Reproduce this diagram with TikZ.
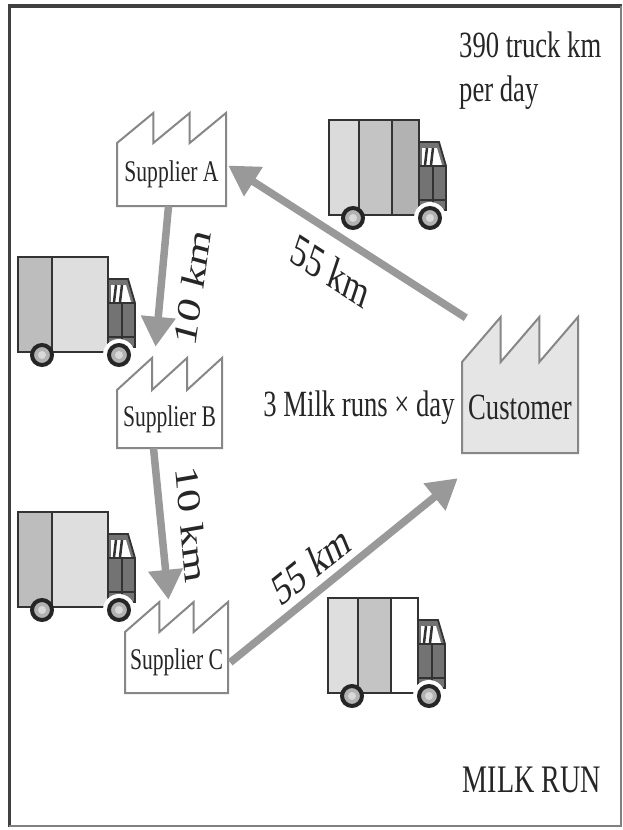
\documentclass[tikz,border=0pt]{standalone}
\usepackage{fontspec}
\setmainfont[FakeStretch=0.72]{Liberation Serif}
\newfontfamily\slantfont{Liberation Serif}
\usetikzlibrary{arrows.meta,positioning}

% factory outline: body with a saw-tooth roof
\newcommand{\plant}[8][fill=white]{%
  \pgfmathsetmacro\tooth{(#5-#3)/3}
  \draw[factory,#1] (#3,#4) -- ++(\tooth,-#7) -- ++(0,#7) -- ++(\tooth,-#7)
    -- ++(0,#7) -- ++(\tooth,-#7) -- (#5,#6) -- (#3,#6) -- cycle;
  \node[body, minimum width={(#5-#3)*1pt}, minimum height={(#6-#4)*1pt}]
    (#2) at ({(#3+#5)/2},{(#4+#6)/2}) {#8};
}
\newcommand{\plantfont}{\fontsize{30}{34}\selectfont}

\tikzset{
  factory/.style={draw=black!47, line width=2pt},
  body/.style={inner sep=0pt, text=black!85},
  route/.style={draw=black!40, line width=7.5pt, -{Triangle[length=30pt,width=33pt]}},
  lbl/.style={font=\fontsize{37}{44}\selectfont, inner sep=0pt, text=black!85},
  dist/.style={font=\slantfont\fontsize{46}{50}\selectfont, inner sep=0pt, text=black!85, xscale=0.72},
  truckline/.style={draw=black!80, line width=1.8pt},
  % box top-left at the origin; three panel colours and two divider positions
  pics/truck/.style n args={5}{code={
    \fill[#1] (0,0) rectangle (#4,95);
    \fill[#2] (#4,0) rectangle (#5,95);
    \fill[#3] (#5,0) rectangle (90,95);
    \draw[truckline] (#4,0) -- (#4,95) (#5,0) -- (#5,95);
    \draw[truckline] (0,0) rectangle (90,95);
    \filldraw[truckline, fill=black!55] (90,22) -- (110,22) -- (117,46) -- (117,90) -- (90,90) -- cycle;
    \fill[white] (93,28) -- (108,28) -- (113,45) -- (93,45) -- cycle;
    \draw[black!80, line width=2.5pt] (98,28) -- (96,45) (104,28) -- (102,45);
    \draw[black!80, line width=1.2pt] (90,46) -- (117,46) (104,46) -- (104,86) (90,80) -- (117,80);
    \fill[white] (101,98) circle (16);
    \filldraw[draw=black!85, fill=black!30, line width=4pt] (24,98) circle (10);
    \fill[black!15] (24,98) circle (4);
    \filldraw[draw=black!85, fill=black!30, line width=4pt] (101,98) circle (10);
    \fill[black!15] (101,98) circle (4);
  }}
}

\begin{document}
\begin{tikzpicture}[x=1pt, y=-1pt]
  \useasboundingbox (0,0) rectangle (622,830);
  \fill[white] (0,0) rectangle (622,830);

  % frame
  \draw[black!75, line width=4pt] (8,6) -- (622,6);
  \draw[black!75, line width=3pt] (9,6) -- (9,827);
  \draw[black!50, line width=2pt] (9,826) -- (621,826) -- (621,6);

  % trucks
  \pic at (329,120) {truck={black!14}{black!23}{black!30}{30}{63}};
  \pic at (18,257) {truck={black!26}{black!13}{black!13}{34}{90}};
  \pic at (18,512) {truck={black!26}{black!13}{black!13}{34}{90}};
  \pic at (328,598) {truck={black!13}{black!23}{white}{30}{63}};

  % suppliers and customer
  \plant{supA}{117}{143}{226}{206}{30}{\plantfont Supplier A}
  \plant{supB}{117}{390}{222}{448}{32}{\plantfont Supplier B}
  \plant{supC}{125}{632}{228}{693}{30}{\plantfont Supplier C}
  \plant[fill=black!10]{cust}{462}{362}{578}{453}{45}{\fontsize{37}{40}\selectfont Customer}

  % routes
  \draw[route] ([shift={(4,-44)}]cust.north west) -- ([shift={(2,-9)}]supA.east);
  \draw[route] ([shift={(-3,0)}]supA.south) -- ([shift={(-14,-43)}]supB.north);
  \draw[route] ([shift={(-16,0)}]supB.south) -- ([shift={(-8,-32)}]supC.north);
  \draw[route] ([shift={(2,0)}]supC.east) -- ([shift={(-4,25)}]cust.south west);

  % distances
  \node[dist, rotate=-25] (dAC) at (331,271) {55 km};
  \node[dist, rotate=79] (dAB) at (192,287) {10 km};
  \node[dist, rotate=-83] (dBC) at (192,524) {10 km};
  \node[dist, rotate=30] (dCC) at (311,565) {55 km};

  \node[lbl, left=7pt of cust] (runs) {3 Milk runs × day};
  \node[lbl, anchor=north west, align=left] (total) at (459,32) {390 truck km\\per day};
  \node[lbl, font=\fontsize{39}{44}\selectfont, anchor=east] (title) at (601,780) {MILK RUN};
\end{tikzpicture}
\end{document}
